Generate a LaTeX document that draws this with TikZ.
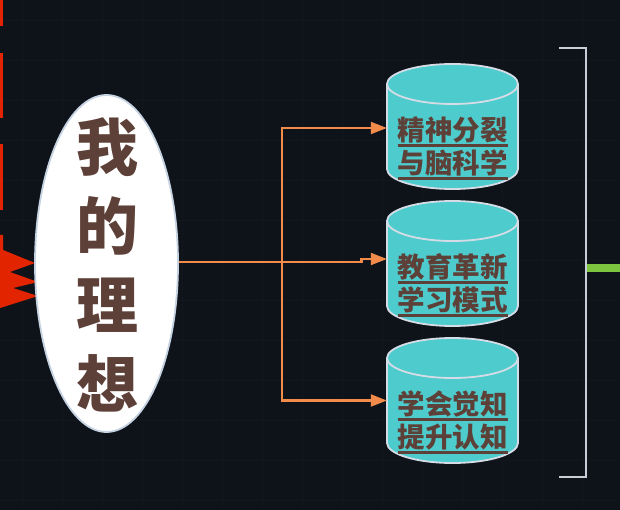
\documentclass[tikz,border=0pt]{standalone}
\usepackage{fontspec}
\newfontfamily\cjk{Noto Sans CJK SC}
\usetikzlibrary{arrows.meta,shapes.geometric}

\definecolor{bgc}{HTML}{0E131A}
\definecolor{gridc}{HTML}{12171F}
\definecolor{redc}{HTML}{E32400}
\definecolor{brownc}{HTML}{5D4037}
\definecolor{tealc}{HTML}{4ECBCC}
\definecolor{rimc}{HTML}{D5DCE6}
\definecolor{ovalrim}{HTML}{C5D2E2}
\definecolor{orangec}{HTML}{F38B4A}
\definecolor{greenc}{HTML}{7DC43F}
\definecolor{bracketc}{HTML}{C8CED8}

% underlined text line
\newcommand\ulline[1]{\setbox0\hbox{#1}\rlap{\raisebox{-6pt}{\color{brownc}\rule{\wd0}{2.6pt}}}\box0}

\tikzset{
  link/.style={draw=orangec, line width=2.2pt},
  tip/.style={-{Triangle[length=16pt,width=12pt]}},
  cyltext/.style={text=brownc, font=\cjk\bfseries\fontsize{27.5}{33}\selectfont, align=center, inner sep=0pt},
  anchorbox/.style={minimum width=131pt, minimum height=125pt, inner sep=0pt, draw=none}
}

% cylinder drawn from its top-ellipse centre (cx, ty)
\newcommand\drumshape[2]{%
  \fill[tealc] (#1-65.5,#2) -- (#1-65.5,#2+85)
     arc[start angle=180,end angle=0,x radius=65.5,y radius=20]
     -- (#1+65.5,#2) arc[start angle=0,end angle=-180,x radius=65.5,y radius=20] -- cycle;
  \draw[rimc, line width=1.8pt] (#1-65.5,#2) -- (#1-65.5,#2+85)
     arc[start angle=180,end angle=0,x radius=65.5,y radius=20]
     -- (#1+65.5,#2);
  \draw[rimc, line width=1.8pt] (#1,#2) ellipse[x radius=65.5,y radius=20];
}

\begin{document}
\begin{tikzpicture}[x=1pt,y=-1pt]
  \useasboundingbox (0,0) rectangle (620,510);
  \fill[bgc] (0,0) rectangle (620,510);

  % faint background grid
  \foreach \gx in {22,62,...,622} \draw[gridc, line width=0.8pt] (\gx,0) -- (\gx,510);
  \foreach \gy in {20,60,...,510} \draw[gridc, line width=0.8pt] (0,\gy) -- (620,\gy);

  % red dashes and zigzag at the left edge
  \fill[redc] (0,0) rectangle (3,26);
  \fill[redc] (0,53) rectangle (3,118);
  \fill[redc] (0,144) rectangle (3,210);
  \fill[redc] (0,235) -- (3,235) -- (3,250) -- (35,263) -- (10,272) -- (38,282)
     -- (13,288) -- (38,296) -- (0,308) -- cycle;

  % central oval
  \node (me) [ellipse, draw=ovalrim, fill=white, line width=1.8pt,
      minimum width=143pt, minimum height=337pt, inner sep=0pt] at (106.5,263.5) {};
  \node[text=brownc, font=\cjk\bfseries\fontsize{62}{79}\selectfont, align=center, inner sep=0pt]
      (metext) at (107,265) {我\\的\\理\\想};

  % three drums
  \drumshape{452.5}{84}
  \drumshape{452.5}{221}
  \drumshape{452.5}{358}
  \node (d1) [anchorbox] at (452.5,126.5) {};
  \node (d2) [anchorbox] at (452.5,263.5) {};
  \node (d3) [anchorbox] at (452.5,400.5) {};
  \node[cyltext] (t1) at (452.5,148.5) {\ulline{精神分裂}\\\ulline{与脑科学}};
  \node[cyltext] (t2) at (452.5,285.5) {\ulline{教育革新}\\\ulline{学习模式}};
  \node[cyltext] (t3) at (452.5,422.5) {\ulline{学会觉知}\\\ulline{提升认知}};

  % connectors
  \coordinate (split) at (282,262.3);
  \draw[link] (me.east |- split) -- (split);
  \draw[link, tip] (split) -- (282,128) -- (d1.west |- 0,128);
  \draw[link, tip] (split) -- (361.5,262.3) -- (361.5,259) -- (d2.west |- 0,259);
  \draw[link, tip] (split) -- (282,400.5) -- (d3.west |- 0,400.5);

  % right bracket and green stub
  \coordinate (bt) at (559,48.5);
  \coordinate (bb) at (559,477);
  \draw[bracketc, line width=2pt] (bt) -- (586,48.5) -- (586,477) -- (bb);
  \coordinate (gs) at (587,268);
  \coordinate (ge) at (620,268);
  \draw[greenc, line width=7pt] (gs) -- (ge);
\end{tikzpicture}
\end{document}
